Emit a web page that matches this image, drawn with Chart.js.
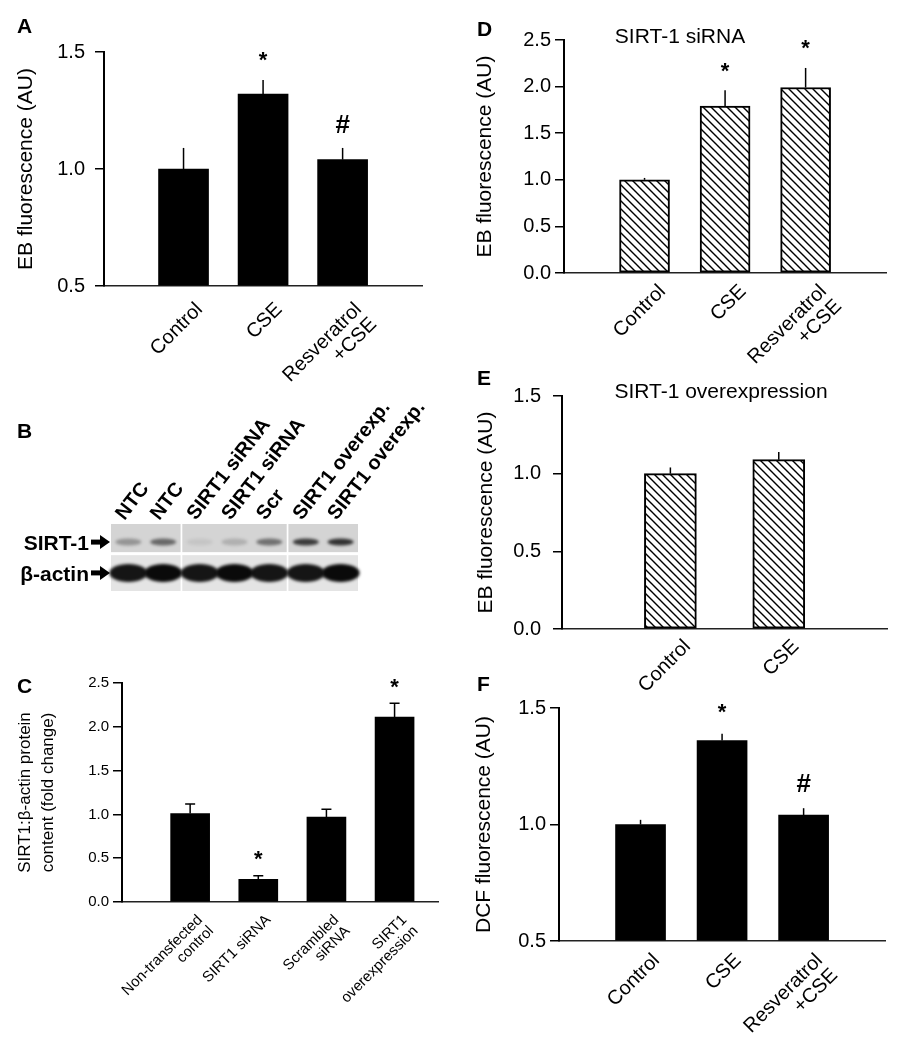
<!DOCTYPE html>
<html>
<head>
<meta charset="utf-8">
<script src="https://cdn.jsdelivr.net/npm/chart.js@4.4.1/dist/chart.umd.min.js"></script>
<style>
  body{margin:0;background:#fff;width:909px;height:1041px;position:relative;overflow:hidden;font-family:"Liberation Sans",Arial,sans-serif;color:#000}
  canvas{position:absolute}
  .lbl{position:absolute;font-weight:bold;font-size:21px;line-height:21px}
  .sub{position:absolute;font-size:21px;line-height:21px;white-space:nowrap;transform:translateX(-50%)}
</style>
</head>
<body>
<canvas id="chartA" width="450" height="400" style="left:0;top:0"></canvas>
<canvas id="chartB" width="460" height="215" style="left:0;top:385px"></canvas>
<canvas id="chartC" width="460" height="400" style="left:0;top:640px"></canvas>
<canvas id="chartD" width="449" height="370" style="left:460px;top:0"></canvas>
<canvas id="chartE" width="449" height="345" style="left:460px;top:360px"></canvas>
<canvas id="chartF" width="449" height="381" style="left:460px;top:660px"></canvas>

<div class="lbl" style="left:17px;top:15px">A</div>
<div class="lbl" style="left:17px;top:420px">B</div>
<div class="lbl" style="left:17px;top:675px">C</div>
<div class="lbl" style="left:477px;top:18px">D</div>
<div class="lbl" style="left:477px;top:367px">E</div>
<div class="lbl" style="left:477px;top:673px">F</div>
<div class="sub" style="left:680px;top:25px">SIRT-1 siRNA</div>
<div class="sub" style="left:721px;top:380px">SIRT-1 overexpression</div>

<script>
// ---- data ----
const labelsA = ['Control', 'CSE', ['Resveratrol', '+CSE']]
const meansA = [1.00, 1.32, 1.04]
const errA = [0.09, 0.06, 0.05]
const sigA = ['', '*', '#']

const blotLanes = ['NTC', 'NTC', 'SIRT1 siRNA', 'SIRT1 siRNA', 'Scr', 'SIRT1 overexp.', 'SIRT1 overexp.']
const blotPanel = [0, 0, 1, 1, 1, 2, 2]
const blotSirt = [0.35, 0.6, 0.08, 0.2, 0.55, 0.85, 0.9]   // band darkness
const blotActin = [0.95, 1, 0.95, 1, 0.95, 0.95, 1]
const blotRows = ['SIRT-1', 'β-actin']

const labelsC = [['Non-transfected', 'control'], 'SIRT1 siRNA', ['Scrambled', 'siRNA'], ['SIRT1', 'overexpression']]
const meansC = [1.01, 0.26, 0.97, 2.11]
const errC = [0.11, 0.04, 0.09, 0.16]
const sigC = ['', '*', '', '*']

const labelsD = ['Control', 'CSE', ['Resveratrol', '+CSE']]
const meansD = [1.00, 1.79, 1.99]
const errD = [0.02, 0.17, 0.21]
const sigD = ['', '*', '*']

const labelsE = ['Control', 'CSE']
const meansE = [1.00, 1.09]
const errE = [0.04, 0.05]
const sigE = ['', '']

const labelsF = ['Control', 'CSE', ['Resveratrol', '+CSE']]
const meansF = [1.00, 1.36, 1.04]
const errF = [0.02, 0.03, 0.03]
const sigF = ['', '*', '#']

Chart.defaults.font.family = '"Liberation Sans", Arial, sans-serif'
Chart.defaults.color = '#000'
Chart.defaults.animation = false
Chart.defaults.plugins.legend.display = false
Chart.defaults.plugins.tooltip.enabled = false

// diagonal hatch fill
const hatch = (() => {
  const n = 8
  const c = document.createElement('canvas')
  c.width = n; c.height = n
  const g = c.getContext('2d')
  g.fillStyle = '#fff'; g.fillRect(0, 0, n, n)
  g.strokeStyle = '#000'; g.lineWidth = 1.4
  g.beginPath()
  g.moveTo(-1, -1); g.lineTo(n + 1, n + 1)
  g.moveTo(-1, n - 1); g.lineTo(1, n + 1)
  g.moveTo(n - 1, -1); g.lineTo(n + 1, 1)
  g.stroke()
  return g.createPattern(c, 'repeat')
})()

// error bars (upper only) + significance marks
const errPlugin = {
  id: 'errPlugin',
  afterDatasetsDraw(chart, args, opts) {
    const ctx = chart.ctx
    const y = chart.scales.y
    const meta = chart.getDatasetMeta(0)
    ctx.save()
    ctx.strokeStyle = '#000'
    ctx.lineWidth = 1.5
    meta.data.forEach((bar, i) => {
      const top = y.getPixelForValue(opts.means[i] + opts.errs[i])
      ctx.beginPath()
      ctx.moveTo(bar.x, bar.y)
      ctx.lineTo(bar.x, top)
      if (opts.cap) {
        ctx.moveTo(bar.x - opts.cap, top)
        ctx.lineTo(bar.x + opts.cap, top)
      }
      ctx.stroke()
      const s = opts.sig[i]
      if (s) {
        ctx.font = (s === '#' ? 'bold 26px ' : 'bold 22px ') + Chart.defaults.font.family
        ctx.fillStyle = '#000'
        ctx.textAlign = 'center'
        ctx.textBaseline = 'alphabetic'
        const m = ctx.measureText(s)
        const yc = top - opts.gap
        ctx.fillText(s, bar.x, yc + (m.actualBoundingBoxAscent - m.actualBoundingBoxDescent) / 2)
      }
    })
    ctx.restore()
  }
}

const barChart = (id, c) => new Chart(document.getElementById(id), {
  type: 'bar',
  data: {
    datasets: [{
      data: c.means.map((v, i) => ({ x: i + 1, y: v })),
      backgroundColor: c.fill,
      borderColor: '#000',
      borderWidth: c.border,
      borderSkipped: false,
      barThickness: c.barW,
      base: c.yMin
    }]
  },
  options: {
    responsive: false,
    devicePixelRatio: 1,
    layout: { padding: c.pad },
    scales: {
      x: {
        type: 'linear', min: 0, max: c.xMax, offset: false,
        grid: { display: false, drawTicks: false, offset: false },
        border: { color: '#222', width: 1.5 },
        ticks: {
          stepSize: 1, autoSkip: false, minRotation: 45, maxRotation: 45,
          padding: c.xPad, labelOffset: c.xOff, font: { size: c.xFont, lineHeight: 1.05 },
          callback: v => (Number.isInteger(v) && v >= 1 && v <= c.labels.length) ? c.labels[v - 1] : ''
        },
        afterFit: s => { s.height = c.xH }
      },
      y: {
        min: c.yMin, max: c.yMax,
        grid: { drawOnChartArea: false, drawTicks: true, tickLength: 9, color: '#000', lineWidth: 1.5 },
        border: { color: '#000', width: 2 },
        ticks: { stepSize: 0.5, padding: c.yPad, font: { size: c.yFont }, callback: v => v.toFixed(1) },
        title: { display: true, text: c.yTitle, font: { size: c.tFont, lineHeight: c.tLine }, padding: { top: c.tPad, bottom: 0 } },
        afterFit: s => { s.width = c.yW }
      }
    },
    plugins: {
      errPlugin: { means: c.means, errs: c.errs, sig: c.sig, cap: c.cap, gap: c.gap }
    }
  },
  plugins: [errPlugin]
})

barChart('chartA', {
  labels: labelsA, means: meansA, errs: errA, sig: sigA, fill: '#000', border: 0, barW: 50,
  yMin: 0.5, yMax: 1.5, xMax: 4, pad: { left: 0, top: 52, right: 17, bottom: 0 }, yW: 104, xH: 114,
  xPad: 13, xOff: 16, xFont: 20, yPad: 10, yFont: 20,
  yTitle: 'EB fluorescence (AU)', tFont: 21, tLine: 1.2, tPad: 14, cap: 0, gap: 24
})

barChart('chartC', {
  labels: labelsC, means: meansC, errs: errC, sig: sigC, fill: '#000', border: 0, barW: 39,
  yMin: 0, yMax: 2.5, xMax: 4.65, pad: { left: 0, top: 43, right: 3, bottom: 0 }, yW: 122, xH: 138,
  xPad: 10, xOff: 10, xFont: 15, yPad: 4, yFont: 15,
  yTitle: ['SIRT1:β-actin protein', 'content (fold change)'], tFont: 17, tLine: 1.35, tPad: 14, cap: 5, gap: 20
})

barChart('chartD', {
  labels: labelsD, means: meansD, errs: errD, sig: sigD, fill: hatch, border: 2, barW: 50,
  yMin: 0, yMax: 2.5, xMax: 4, pad: { left: 0, top: 40, right: 17, bottom: 0 }, yW: 104, xH: 97,
  xPad: 8, xOff: 18, xFont: 20, yPad: 4, yFont: 20,
  yTitle: 'EB fluorescence (AU)', tFont: 21, tLine: 1.2, tPad: 13, cap: 0, gap: 23
})

barChart('chartE', {
  labels: labelsE, means: meansE, errs: errE, sig: sigE, fill: hatch, border: 2, barW: 52,
  yMin: 0, yMax: 1.5, xMax: 3, pad: { left: 0, top: 36, right: 17, bottom: 0 }, yW: 102, xH: 76,
  xPad: 7, xOff: 17, xFont: 20, yPad: 12, yFont: 20,
  yTitle: 'EB fluorescence (AU)', tFont: 21, tLine: 1.2, tPad: 14, cap: 0, gap: 23
})

barChart('chartF', {
  labels: labelsF, means: meansF, errs: errF, sig: sigF, fill: '#000', border: 0, barW: 50,
  yMin: 0.5, yMax: 1.5, xMax: 4, pad: { left: 0, top: 48, right: 22, bottom: 0 }, yW: 99, xH: 100,
  xPad: 9, xOff: 16, xFont: 20, yPad: 4, yFont: 20,
  yTitle: 'DCF fluorescence (AU)', tFont: 21, tLine: 1.2, tPad: 12, cap: 0, gap: 25
})

// western blot, lanes placed on a hidden linear scale
const lanePos = blotLanes.map((l, i) => i + 0.5 + blotPanel[i] * 0.05)

const blotPlugin = {
  id: 'blotPlugin',
  afterDraw(chart) {
    const { ctx, chartArea: a, scales: { x, y } } = chart
    const fam = Chart.defaults.font.family
    ctx.save()
    // grey membrane panels
    ;[0, 1, 2].forEach(p => {
      const idx = blotPanel.map((q, i) => q === p ? i : -1).filter(i => i >= 0)
      const x0 = x.getPixelForValue(lanePos[idx[0]] - 0.5)
      const x1 = x.getPixelForValue(lanePos[idx[idx.length - 1]] + 0.5)
      ctx.fillStyle = '#d4d4d4'
      ctx.fillRect(x0, y.getPixelForValue(2), x1 - x0, y.getPixelForValue(1.16) - y.getPixelForValue(2))
      ctx.fillStyle = '#e4e4e4'
      ctx.fillRect(x0, y.getPixelForValue(1.07), x1 - x0, y.getPixelForValue(0) - y.getPixelForValue(1.07))
    })
    // bands
    ctx.filter = 'blur(1.5px)'
    lanePos.forEach((p, i) => {
      const cx = x.getPixelForValue(p)
      ctx.fillStyle = `rgba(0,0,0,${blotSirt[i] * 0.85})`
      ctx.beginPath()
      ctx.ellipse(cx, y.getPixelForValue(1.46), 13, 3.5, 0, 0, Math.PI * 2)
      ctx.fill()
      ctx.fillStyle = `rgba(10,10,10,${blotActin[i]})`
      ctx.beginPath()
      ctx.ellipse(cx, y.getPixelForValue(0.54), 19, 9, 0, 0, Math.PI * 2)
      ctx.fill()
    })
    ctx.filter = 'none'
    // lane labels
    ctx.fillStyle = '#000'
    ctx.font = 'bold 20px ' + fam
    ctx.textAlign = 'left'
    ctx.textBaseline = 'alphabetic'
    lanePos.forEach((p, i) => {
      ctx.save()
      ctx.translate(x.getPixelForValue(p) - 4, a.top - 3)
      ctx.rotate(-52 * Math.PI / 180)
      ctx.fillText(blotLanes[i], 0, 0)
      ctx.restore()
    })
    // row labels with arrows
    ctx.font = 'bold 21px ' + fam
    ctx.textAlign = 'right'
    ;[1.46, 0.54].forEach((v, r) => {
      const cy = y.getPixelForValue(v)
      const xr = a.left - 22
      ctx.fillText(blotRows[r], xr, cy + 8)
      ctx.fillRect(xr + 2, cy - 2.5, 11, 5)
      ctx.beginPath()
      ctx.moveTo(xr + 11, cy - 7)
      ctx.lineTo(a.left - 1, cy)
      ctx.lineTo(xr + 11, cy + 7)
      ctx.closePath()
      ctx.fill()
    })
    ctx.restore()
  }
}

new Chart(document.getElementById('chartB'), {
  type: 'scatter',
  data: { datasets: [{ data: [] }] },
  options: {
    responsive: false,
    devicePixelRatio: 1,
    layout: { padding: { left: 111, top: 139, right: 102, bottom: 9 } },
    scales: {
      x: { type: 'linear', min: 0, max: 7.1, display: false },
      y: { type: 'linear', min: 0, max: 2, display: false }
    }
  },
  plugins: [blotPlugin]
})
</script>
</body>
</html>
